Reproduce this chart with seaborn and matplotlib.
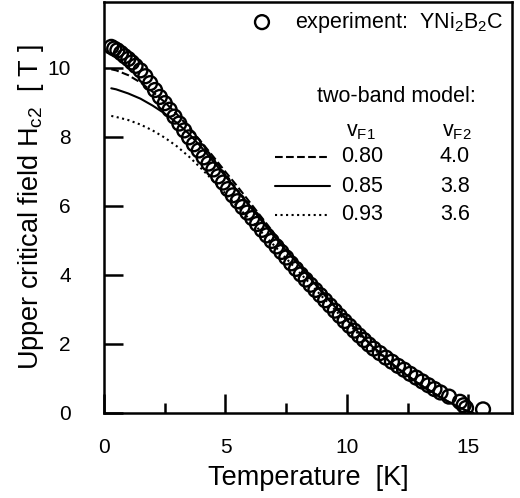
import matplotlib
matplotlib.use("Agg")
import matplotlib.pyplot as plt
import seaborn as sns
import pandas as pd

# experiment: YNi2B2C, upper critical field vs temperature
exp_T = [0.30, 0.42, 0.55, 0.70, 0.85, 1.00, 1.15, 1.30, 1.50, 1.70, 1.90, 2.10,
         2.30, 2.50, 2.70, 2.90, 3.10, 3.30, 3.50, 3.70, 3.90, 4.10, 4.30, 4.50,
         4.70, 4.90, 5.10, 5.30, 5.50, 5.70, 5.90, 6.10, 6.30, 6.50, 6.70, 6.90,
         7.10, 7.30, 7.50, 7.70, 7.90, 8.10, 8.30, 8.50, 8.70, 8.90, 9.10, 9.30,
         9.50, 9.70, 9.90, 10.10, 10.30, 10.50, 10.70, 10.90, 11.10, 11.35, 11.60,
         11.85, 12.10, 12.35, 12.60, 12.85, 13.10, 13.35, 13.60, 13.85, 14.20,
         14.65, 14.80, 14.90, 15.60]
exp_H = [10.60, 10.55, 10.50, 10.42, 10.33, 10.25, 10.15, 10.05, 9.92, 9.75, 9.55, 9.35,
         9.15, 8.97, 8.78, 8.58, 8.38, 8.18, 7.98, 7.78, 7.60, 7.40, 7.22, 7.05,
         6.85, 6.67, 6.48, 6.30, 6.13, 5.96, 5.80, 5.64, 5.47, 5.30, 5.14, 4.98,
         4.82, 4.66, 4.50, 4.33, 4.17, 4.01, 3.86, 3.71, 3.56, 3.41, 3.26, 3.11,
         2.96, 2.81, 2.66, 2.52, 2.38, 2.24, 2.11, 1.98, 1.86, 1.73, 1.60,
         1.48, 1.36, 1.25, 1.13, 1.02, 0.91, 0.80, 0.69, 0.59, 0.47,
         0.32, 0.22, 0.14, 0.10]

# two-band model curves
model_T = [0.3, 0.5, 1.0, 1.5, 2.0, 2.5, 3.0, 3.5, 4.0, 4.5, 5.0, 5.5, 6.0, 6.5,
           7.0, 7.5, 8.0, 9.0, 10.0, 11.0, 12.0, 13.0, 14.0, 14.5, 15.0, 15.2]
H_080 = [9.95, 9.92, 9.78, 9.57, 9.30, 9.00, 8.65, 8.27, 7.85, 7.42, 6.98, 6.55, 6.10, 5.65,
         5.20, 4.77, 4.35, 3.50, 2.70, 1.96, 1.34, 0.82, 0.39, 0.20, 0.04, 0.0]
H_085 = [9.40, 9.37, 9.25, 9.10, 8.90, 8.67, 8.40, 8.08, 7.70, 7.28, 6.85, 6.42, 5.98, 5.55,
         5.12, 4.70, 4.30, 3.47, 2.68, 1.95, 1.33, 0.82, 0.39, 0.20, 0.04, 0.0]
H_093 = [8.60, 8.57, 8.48, 8.35, 8.18, 7.97, 7.72, 7.42, 7.08, 6.72, 6.35, 5.97, 5.60, 5.22,
         4.85, 4.47, 4.10, 3.35, 2.62, 1.91, 1.31, 0.80, 0.38, 0.19, 0.03, 0.0]

vF1 = ["0.80", "0.85", "0.93"]
vF2 = ["4.0", "3.8", "3.6"]
styles = ["--", "-", ":"]

sns.set_style("ticks")
plt.rcParams["font.family"] = ["Liberation Sans", "DejaVu Sans"]
plt.rcParams["mathtext.fontset"] = "custom"
plt.rcParams["mathtext.rm"] = "Liberation Sans"
plt.rcParams["mathtext.it"] = "Liberation Sans:italic"
plt.rcParams["text.color"] = "black"
plt.rcParams["axes.labelcolor"] = "black"
plt.rcParams["axes.edgecolor"] = "black"
plt.rcParams["xtick.color"] = "black"
plt.rcParams["ytick.color"] = "black"

fig = plt.figure(figsize=(5.2, 4.98), dpi=100)
ax = fig.add_axes([0.2, 0.171, 0.785, 0.825])

df_exp = pd.DataFrame({"T": exp_T, "H": exp_H})
df_mod = pd.DataFrame({"T": model_T, "0.80": H_080, "0.85": H_085, "0.93": H_093})

for v, ls in zip(vF1, styles):
    sns.lineplot(data=df_mod, x="T", y=v, ax=ax, color="black", linestyle=ls,
                 linewidth=1.5, sort=False, estimator=None)

sns.scatterplot(data=df_exp, x="T", y="H", ax=ax, marker="o", s=100,
                facecolor="none", edgecolor="black", linewidth=1.7, zorder=3)

ax.set_xlim(0, 16.8)
ax.set_ylim(0, 11.9)
ax.set_xticks([0, 5, 10, 15])
ax.set_xticks([2.5, 7.5, 12.5], minor=True)
ax.set_yticks([0, 2, 4, 6, 8, 10])
ax.tick_params(axis="both", which="major", direction="in", length=14, width=1.8,
               labelsize=15)
ax.tick_params(axis="x", which="major", pad=18)
ax.tick_params(axis="y", which="major", pad=24)
ax.tick_params(axis="x", which="minor", direction="in", length=7, width=1.8)
for sp in ax.spines.values():
    sp.set_linewidth(1.8)
    sp.set_visible(True)

ax.set_xlabel("Temperature  [K]", fontsize=19.5, labelpad=6)
ax.set_ylabel(r"Upper critical field H$_{\rm c2}$  [ T ]", fontsize=19.5, labelpad=1)

# legend drawn by hand
ax.scatter([0.387], [0.951], s=100, marker="o", facecolor="none", edgecolor="black",
           linewidth=1.7, transform=ax.transAxes, clip_on=False)
ax.text(0.468, 0.951, r"experiment:  YNi$_2$B$_2$C", transform=ax.transAxes,
        fontsize=15.5, va="center", ha="left")
ax.text(0.716, 0.769, "two-band model:", transform=ax.transAxes,
        fontsize=15.5, va="center", ha="center")
ax.text(0.63, 0.684, r"v$_{\rm F1}$", transform=ax.transAxes,
        fontsize=15.5, va="center", ha="center")
ax.text(0.865, 0.684, r"v$_{\rm F2}$", transform=ax.transAxes,
        fontsize=15.5, va="center", ha="center")
rows_y = [0.623, 0.552, 0.482]
for v1, v2, ls, yy in zip(vF1, vF2, styles, rows_y):
    ax.plot([0.419, 0.554], [yy, yy], color="black", linestyle=ls, linewidth=1.5,
            transform=ax.transAxes)
    ax.text(0.632, yy, v1, transform=ax.transAxes, fontsize=15.5, va="center", ha="center")
    ax.text(0.86, yy, v2, transform=ax.transAxes, fontsize=15.5, va="center", ha="center")

fig.savefig("out.png", dpi=100)
